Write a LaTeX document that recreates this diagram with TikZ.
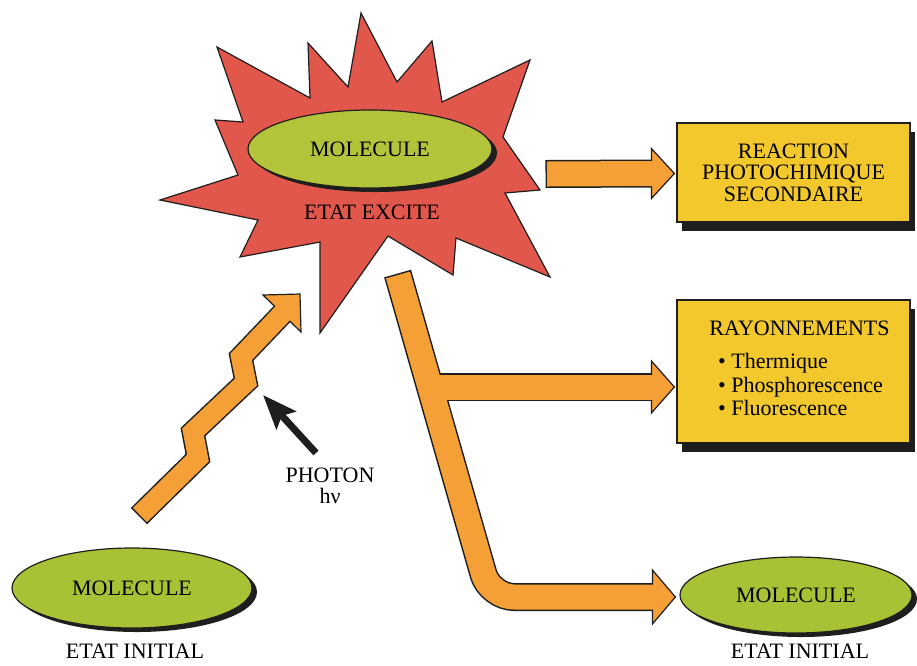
\documentclass[tikz,border=0pt]{standalone}
\usepackage{fontspec}
\setmainfont{Liberation Serif}
\usetikzlibrary{arrows.meta, positioning, shapes.geometric, shadows, calc}
\definecolor{cred}{HTML}{E2574C}
\definecolor{cgreen}{HTML}{A8C236}
\definecolor{cgreenlt}{HTML}{B4C43A}
\definecolor{cyellow}{HTML}{F3C82C}
\definecolor{corange}{HTML}{F5A037}
\definecolor{cink}{HTML}{1E1E1E}
\renewcommand{\arraystretch}{1.09}
\tikzset{
  every picture/.style={font=\fontsize{22}{21.5}\selectfont, line width=1.2pt},
  mol/.style={ellipse, draw=cink, fill=cgreen, inner sep=0pt, minimum width=#1, minimum height=78pt,
    drop shadow={shadow xshift=5pt, shadow yshift=-4pt, opacity=1, fill=cink}},
  mol/.default=240pt,
  box/.style={draw=cink, fill=cyellow, minimum width=233pt, align=center, inner sep=0pt,
    drop shadow={shadow xshift=5pt, shadow yshift=-9pt, opacity=1, fill=cink}},
  tag/.style={align=center, inner sep=0pt},
  rim/.style={draw=cink, line width=28pt, shorten <=-1.5pt},
  body/.style={draw=corange, line width=25pt, shorten >=-2pt},
  head/.style={fill=corange, draw=cink, line join=miter},
}

\begin{document}
\begin{tikzpicture}[x=1pt, y=-1pt]
  \useasboundingbox (0,0) rectangle (917,665);
  % excited state: star burst
  \draw[cink, fill=cred, line join=miter] (361,13) -- (397,82) -- (432,41) -- (442,102) -- (530,60)
    -- (503,137) -- (540,190) -- (505,193) -- (550,277) -- (456,238) -- (453,275) -- (388,236)
    -- (320,333) -- (320,242) -- (240,257) -- (258,220) -- (160,200) -- (238,175) -- (215,120)
    -- (243,122) -- (217,47) -- (310,98) -- (308,43) -- (348,87) -- cycle;
  \node[mol=244pt, fill=cgreenlt] (molexc) at (370,149) {MOLECULE};
  \node[tag] (excite) at (372,212) {ETAT EXCITE};
  % molecules in the initial state
  \node[mol=240pt, minimum height=80pt] (molinit) at (132,588) {MOLECULE};
  \node[tag] (init1) at (135,651) {ETAT INITIAL};
  \node[mol=232pt, minimum height=76pt] (molend) at (796,595) {MOLECULE};
  \node[tag] (init2) at (800,651) {ETAT INITIAL};
  % outcomes
  \node[box, minimum height=99pt] (react) at (793.5,172.5) {REACTION\\PHOTOCHIMIQUE\\SECONDAIRE};
  \node[box, minimum height=143pt] (rayon) at (793.5,371.5)
    {\hspace*{12pt}RAYONNEMENTS\\[16pt]\hspace*{14pt}\begin{tabular}{@{}l@{}}• Thermique\\ • Phosphorescence\\ • Fluorescence\end{tabular}};
  % arrow ends
  \coordinate (s1) at (547,174);
  \coordinate (t1) at ($(react.west)+(-2,1)$);
  \coordinate (stem) at (398,275);
  \coordinate (bend) at (490,597);
  \coordinate (jn) at (430,387);
  \coordinate (t2) at ($(rayon.west |- jn)+(-2,0)$);
  \coordinate (t3) at ($(molend.west |- bend)+(-4,0)$);
  \coordinate (ph) at (300,294);
  % block arrows: rim, heads, body
  \draw[rim] (s1) -- ($(t1)+(-23,0)$);
  \draw[rim, rounded corners=24pt] (stem) -- (bend) -- ($(t3)+(-23,0)$);
  \draw[rim] (jn) -- ($(t2)+(-23,0)$);
  \draw[rim, line width=23pt] (140,515) -- (198,458) -- (193,432) -- (246,382) -- (241,357) -- (282,314);
  \foreach \t/\w in {t1/25, t2/26, t3/27} \filldraw[head] (\t) -- ++(-23,-\w) -- ++(0,2*\w) -- cycle;
  \filldraw[head] (ph) -- ++(1,38) -- ++(-38,-37) -- cycle;
  \draw[body] (s1) -- ($(t1)+(-23,0)$);
  \draw[body, rounded corners=24pt] (stem) -- (bend) -- ($(t3)+(-23,0)$);
  \draw[body] (jn) -- ($(t2)+(-23,0)$);
  \draw[body, line width=20pt] (140,515) -- (198,458) -- (193,432) -- (246,382) -- (241,357) -- (282,314);
  % photon
  \node[tag] (photon) at (330,486) {PHOTON\\hν};
  \coordinate (pt) at (316,453);
  \coordinate (pp) at (263,395);
  \draw[cink, line width=7pt, -{Stealth[length=34pt, width=26pt, inset=6pt]}] (pt) -- (pp);
\end{tikzpicture}
\end{document}
